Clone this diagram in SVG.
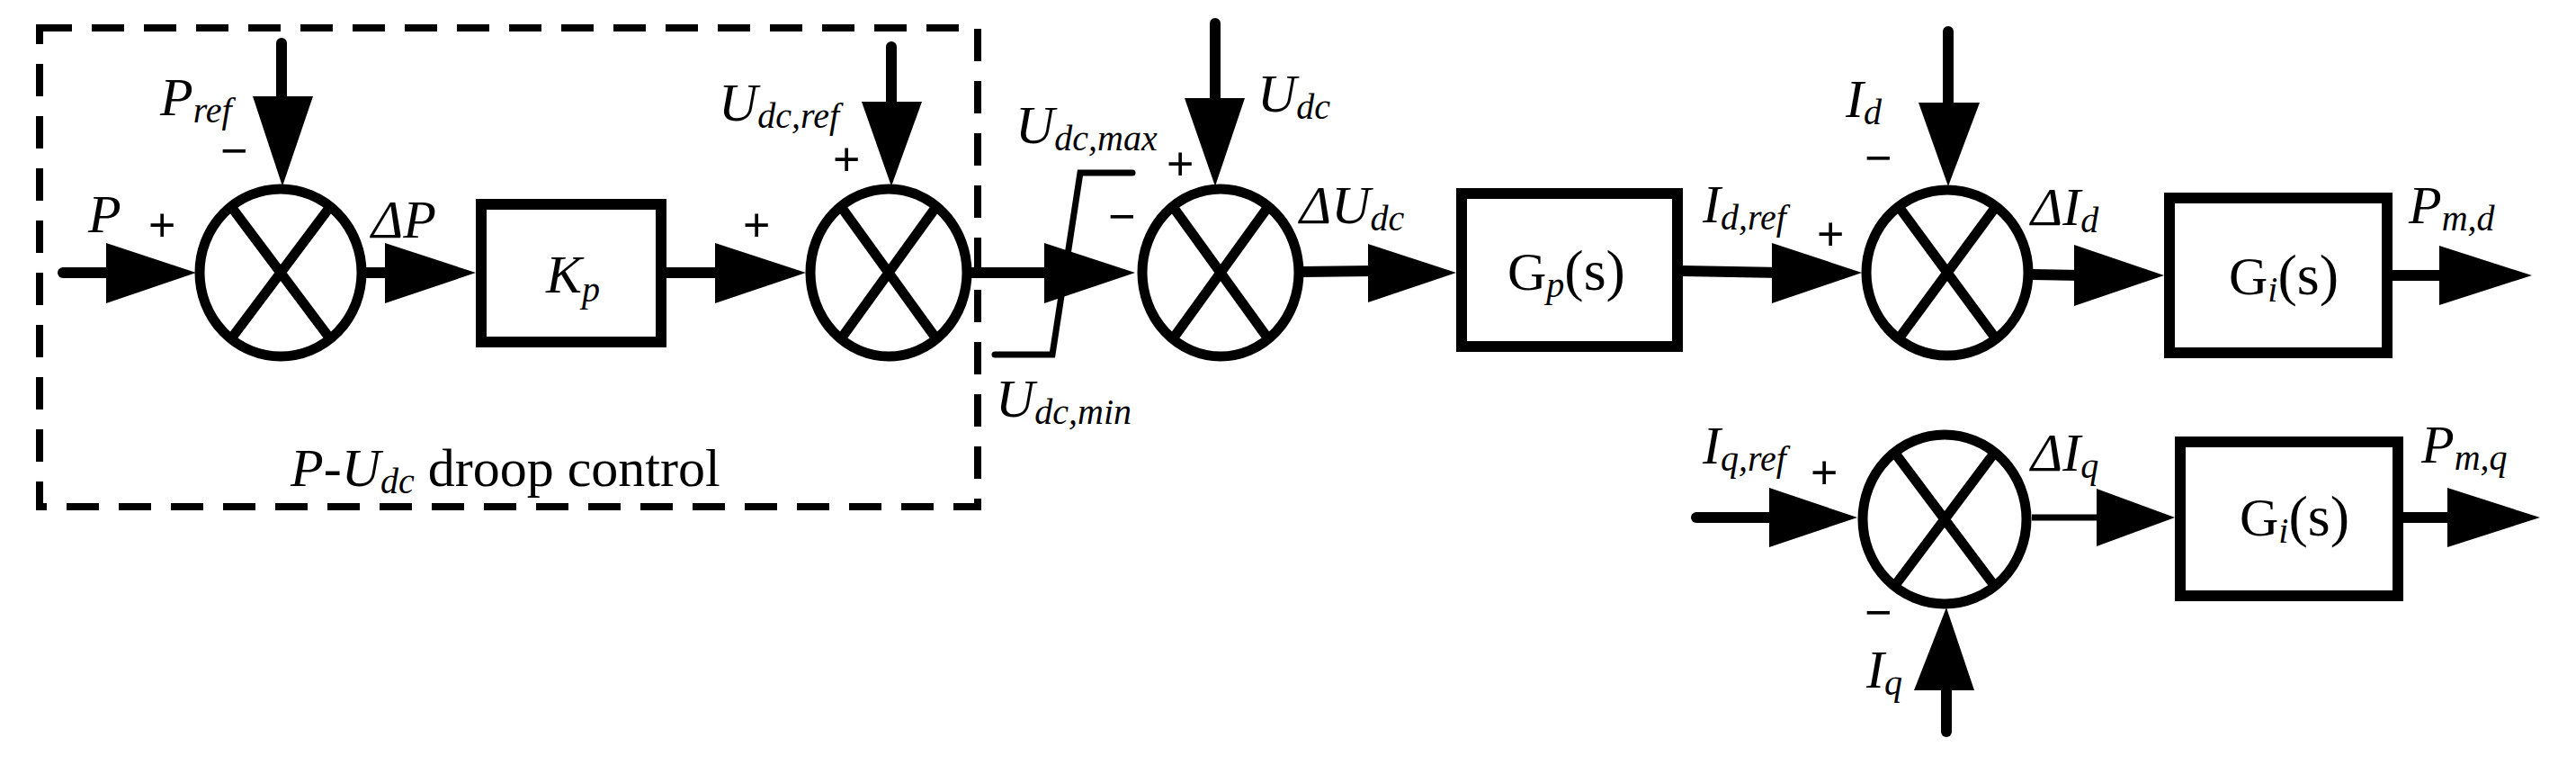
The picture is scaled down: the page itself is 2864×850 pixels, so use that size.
<svg xmlns="http://www.w3.org/2000/svg" width="2864" height="850" viewBox="0 0 2864 850">
<style>
.c{fill:none;stroke:#000;stroke-width:11}
.b{fill:#fff;stroke:#000;stroke-width:12}
.l{stroke:#000;stroke-width:12;fill:none;stroke-linecap:round}
.t{stroke:#000;stroke-width:7;fill:none}
.h{fill:#000}
text{font-family:"Liberation Serif",serif;font-size:60px;fill:#000}
.i{font-style:italic}
.s{font-size:40px;font-style:italic}
.p{font-family:"Liberation Sans",sans-serif;font-size:52px}
</style>
<rect x="44" y="31" width="1043" height="532" fill="none" stroke="#000" stroke-width="8" stroke-dasharray="36,22"/>
<g id="connectors">
<line class="l" x1="70" y1="303" x2="130" y2="303"/>
<polygon class="h" points="118,270 218,303 118,337"/>
<line class="l" x1="313" y1="48" x2="313" y2="120"/>
<polygon class="h" points="281,107 348,107 314,207"/>
<line class="l" x1="406" y1="303" x2="440" y2="303"/>
<polygon class="h" points="428,270 529,303 428,337"/>
<line class="l" x1="741" y1="303" x2="810" y2="303"/>
<polygon class="h" points="795,270 896,303 795,337"/>
<line class="l" x1="991" y1="52" x2="991" y2="125"/>
<polygon class="h" points="958,113 1025,113 991,207"/>
<line class="l" x1="1080" y1="303" x2="1170" y2="303"/>
<polygon class="h" points="1161,270 1262,303 1161,337"/>
<polyline class="t" points="1106,394 1170,394 1201,192 1259,192" stroke-linecap="round" stroke-width="9"/>
<line class="l" x1="1351" y1="26" x2="1351" y2="120"/>
<polygon class="h" points="1317,109 1384,109 1351,207"/>
<line class="l" x1="1447" y1="302" x2="1530" y2="301"/>
<polygon class="h" points="1521,271 1619,303 1521,336"/>
<line class="l" x1="1871" y1="301" x2="1980" y2="303"/>
<polygon class="h" points="1970,270 2070,303 1970,337"/>
<line class="l" x1="2166" y1="35" x2="2166" y2="125"/>
<polygon class="h" points="2133,114 2201,114 2166,207"/>
<line class="l" x1="2259" y1="305" x2="2315" y2="306"/>
<polygon class="h" points="2306,272 2406,306 2306,340"/>
<line class="l" x1="2660" y1="306" x2="2720" y2="306"/>
<polygon class="h" points="2712,273 2815,306 2712,339"/>
<line class="l" x1="1886" y1="575" x2="1975" y2="575"/>
<polygon class="h" points="1967,542 2065,575 1967,608"/>
<line class="t" x1="2259" y1="575" x2="2340" y2="575"/>
<polygon class="h" points="2331,543 2418,575 2331,607"/>
<line class="l" x1="2672" y1="575" x2="2730" y2="575"/>
<polygon class="h" points="2721,542 2824,575 2721,608"/>
<line class="l" x1="2164" y1="813" x2="2164" y2="760"/>
<polygon class="h" points="2128,767 2195,767 2164,675"/>
</g>
<g id="sum1"><ellipse class="c" cx="312" cy="303" rx="90" ry="93"/><path class="c" d="M258,231 L366,375 M366,231 L258,375" stroke-width="8"/></g>
<g id="kp"><rect class="b" x="535" y="227" width="200" height="153"/><text x="607" y="325" class="i">K<tspan class="s" dy="10">p</tspan></text></g>
<g id="sum2"><ellipse class="c" cx="988" cy="303" rx="87" ry="93"/><path class="c" d="M936,231 L1040,375 M1040,231 L936,375" stroke-width="8"/></g>
<g id="sum3"><ellipse class="c" cx="1357" cy="303" rx="87" ry="93"/><path class="c" d="M1305,231 L1409,375 M1409,231 L1305,375" stroke-width="8"/></g>
<g id="gp"><rect class="b" x="1625" y="215" width="240" height="170"/><text x="1676" y="322" font-size="64">G<tspan class="s" dy="8">p</tspan><tspan dy="-8" font-size="64">(s)</tspan></text></g>
<g id="sum4"><ellipse class="c" cx="2165" cy="303" rx="90" ry="92"/><path class="c" d="M2112,231 L2218,375 M2218,231 L2112,375" stroke-width="8"/></g>
<g id="gi1"><rect class="b" x="2412" y="220" width="242" height="172"/><text x="2478" y="327" font-size="64">G<tspan class="s" dy="8">i</tspan><tspan dy="-8" font-size="64">(s)</tspan></text></g>
<g id="sum5"><ellipse class="c" cx="2162" cy="577" rx="91" ry="94"/><path class="c" d="M2108,505 L2216,649 M2216,505 L2108,649" stroke-width="8"/></g>
<g id="gi2"><rect class="b" x="2424" y="491" width="242" height="171"/><text x="2490" y="595" font-size="64">G<tspan class="s" dy="8">i</tspan><tspan dy="-8" font-size="64">(s)</tspan></text></g>
<g id="labels">
<text x="98" y="258" class="i">P</text>
<text x="165" y="268" class="p">+</text>
<text x="178" y="128" class="i">P<tspan class="s" dy="8">ref</tspan></text>
<text x="245" y="185" class="p">−</text>
<text x="413" y="264" class="i">ΔP</text>
<text x="826" y="268" class="p">+</text>
<text x="799" y="134" class="i">U<tspan class="s" dy="8">dc,ref</tspan></text>
<text x="926" y="195" class="p">+</text>
<text x="1129" y="159" class="i">U<tspan class="s" dy="8">dc,max</tspan></text>
<text x="1297" y="200" class="p">+</text>
<text x="1232" y="258" class="p">−</text>
<text x="1107" y="463" class="i">U<tspan class="s" dy="8">dc,min</tspan></text>
<text x="323" y="540" font-size="66"><tspan class="i">P-U</tspan><tspan class="s" dy="8">dc</tspan><tspan dy="-8"> droop control</tspan></text>
<text x="1398" y="124" class="i">U<tspan class="s" dy="8">dc</tspan></text>
<text x="1445" y="248" class="i">ΔU<tspan class="s" dy="8">dc</tspan></text>
<text x="1893" y="247" class="i">I<tspan class="s" dy="8">d,ref</tspan></text>
<text x="2020" y="278" class="p">+</text>
<text x="2052" y="130" class="i">I<tspan class="s" dy="8">d</tspan></text>
<text x="2073" y="193" class="p">−</text>
<text x="2258" y="250" class="i">ΔI<tspan class="s" dy="8">d</tspan></text>
<text x="2678" y="248" class="i">P<tspan class="s" dy="8">m,d</tspan></text>
<text x="1893" y="515" class="i">I<tspan class="s" dy="8">q,ref</tspan></text>
<text x="2013" y="543" class="p">+</text>
<text x="2258" y="523" class="i">ΔI<tspan class="s" dy="8">q</tspan></text>
<text x="2692" y="514" class="i">P<tspan class="s" dy="8">m,q</tspan></text>
<text x="2073" y="698" class="p">−</text>
<text x="2075" y="764" class="i">I<tspan class="s" dy="8">q</tspan></text>
</g>
</svg>
